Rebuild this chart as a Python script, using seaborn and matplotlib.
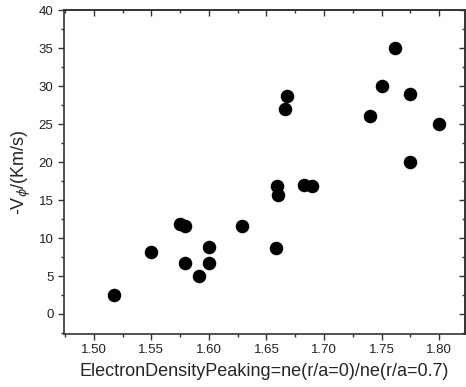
import numpy as np
import pandas as pd
import matplotlib
matplotlib.use("Agg")
import matplotlib.pyplot as plt
import seaborn as sns
from matplotlib.ticker import MultipleLocator

# data
peaking = [1.518, 1.550, 1.575, 1.579, 1.579, 1.591, 1.600, 1.600, 1.629, 1.658, 1.659,
           1.660, 1.666, 1.668, 1.683, 1.690, 1.740, 1.750, 1.762, 1.775, 1.775, 1.800]
v_phi = [2.5, 8.1, 11.9, 11.6, 6.7, 5.0, 8.8, 6.7, 11.6, 8.7, 16.9,
         15.7, 27.0, 28.7, 17.0, 16.9, 26.0, 30.0, 35.0, 29.0, 20.0, 25.0]

df = pd.DataFrame({"peaking": peaking, "v": v_phi})

sns.set_style("ticks")
plt.rcParams["font.family"] = ["Liberation Sans", "DejaVu Sans"]

fig = plt.figure(figsize=(4.66, 3.87), dpi=100)
ax = fig.add_axes([0.137, 0.137, 0.861, 0.837])

sns.scatterplot(data=df, x="peaking", y="v", ax=ax, s=95, color="black",
                edgecolor="black", linewidth=0, legend=False)

ax.set_xlim(1.474, 1.8226)
ax.set_ylim(-2.63, 40)
ax.set_xticks([1.50, 1.55, 1.60, 1.65, 1.70, 1.75, 1.80])
ax.set_xticklabels(["1.50", "1.55", "1.60", "1.65", "1.70", "1.75", "1.80"])
ax.xaxis.set_minor_locator(MultipleLocator(0.025))
ax.yaxis.set_major_locator(MultipleLocator(5))
ax.yaxis.set_minor_locator(MultipleLocator(2.5))

for sp in ax.spines.values():
    sp.set_visible(True)
    sp.set_color("#333333")
    sp.set_linewidth(1.2)

ax.tick_params(which="both", direction="out", bottom=True, left=True,
               top=False, right=False, color="#333333", width=1.0,
               labelsize=9.5, labelcolor="#222222", pad=3)
ax.tick_params(which="major", length=4.5)
ax.tick_params(which="minor", length=2.5)

# mirrored inward ticks on top and right
sec_x = ax.secondary_xaxis("top")
sec_x.xaxis.set_major_locator(MultipleLocator(0.05))
sec_x.xaxis.set_minor_locator(MultipleLocator(0.025))
sec_x.tick_params(which="both", direction="in", labeltop=False, color="#333333", width=1.0)
sec_x.tick_params(which="major", length=4.5)
sec_x.tick_params(which="minor", length=2.5)
sec_x.spines["top"].set_linewidth(1.2)
sec_x.spines["top"].set_color("#333333")
sec_y = ax.secondary_yaxis("right")
sec_y.yaxis.set_major_locator(MultipleLocator(5))
sec_y.yaxis.set_minor_locator(MultipleLocator(2.5))
sec_y.tick_params(which="both", direction="in", labelright=False, color="#333333", width=1.0)
sec_y.tick_params(which="major", length=4.5)
sec_y.tick_params(which="minor", length=2.5)
sec_y.spines["right"].set_linewidth(1.2)
sec_y.spines["right"].set_color("#333333")

ax.set_xlabel("ElectronDensityPeaking=ne(r/a=0)/ne(r/a=0.7)", fontsize=13, labelpad=5)
ax.set_ylabel(r"-V$_{\phi}$/(Km/s)", fontsize=13, labelpad=4)

fig.savefig("out.png", dpi=100)
